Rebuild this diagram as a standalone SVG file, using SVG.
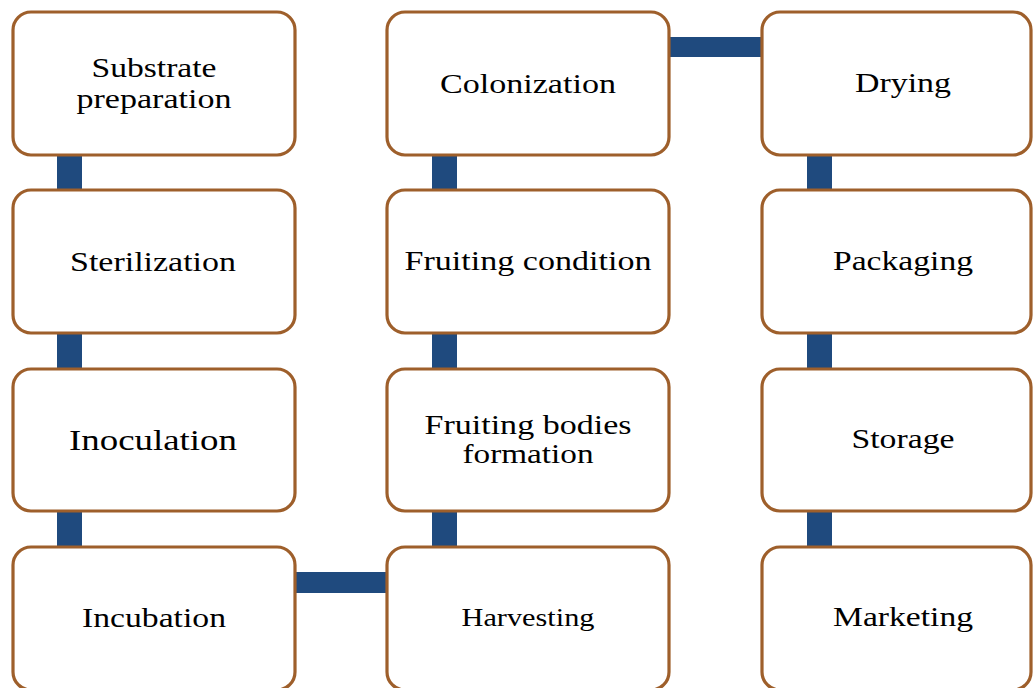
<svg xmlns="http://www.w3.org/2000/svg" width="1033" height="688" viewBox="0 0 1033 688">
  <style>
    .box { fill: #ffffff; stroke: #9e5f2b; stroke-width: 3.2; }
    .bar { fill: #1f4a7e; }
    text { font-family: "Liberation Serif", "Times New Roman", serif; fill: #000000; text-anchor: middle; }
  </style>
  <rect width="1033" height="688" fill="#ffffff"/>

  <!-- connectors -->
  <g id="connectors">
    <rect class="bar" x="57" y="154" width="25" height="37"/>
    <rect class="bar" x="57" y="332" width="25" height="38"/>
    <rect class="bar" x="57" y="510" width="25" height="38"/>
    <rect class="bar" x="294" y="572" width="94" height="21"/>
    <rect class="bar" x="432" y="510" width="25" height="38"/>
    <rect class="bar" x="432" y="332" width="25" height="38"/>
    <rect class="bar" x="432" y="154" width="25" height="37"/>
    <rect class="bar" x="668" y="37" width="95" height="20"/>
    <rect class="bar" x="807" y="154" width="25" height="37"/>
    <rect class="bar" x="807" y="332" width="25" height="38"/>
    <rect class="bar" x="807" y="510" width="25" height="38"/>
  </g>

  <!-- column 1 -->
  <g id="substrate-preparation">
    <rect class="box" x="13" y="12" width="282" height="143" rx="18"/>
    <text x="154" y="77" font-size="27" textLength="125" lengthAdjust="spacingAndGlyphs">Substrate</text>
    <text x="154" y="108" font-size="27" textLength="155" lengthAdjust="spacingAndGlyphs">preparation</text>
  </g>
  <g id="sterilization">
    <rect class="box" x="13" y="190" width="282" height="143" rx="18"/>
    <text x="153" y="271" font-size="27" textLength="166" lengthAdjust="spacingAndGlyphs">Sterilization</text>
  </g>
  <g id="inoculation">
    <rect class="box" x="13" y="369" width="282" height="142" rx="18"/>
    <text x="153" y="450" font-size="30" textLength="168" lengthAdjust="spacingAndGlyphs">Inoculation</text>
  </g>
  <g id="incubation">
    <rect class="box" x="13" y="547" width="282" height="143" rx="18"/>
    <text x="154" y="627" font-size="28" textLength="144" lengthAdjust="spacingAndGlyphs">Incubation</text>
  </g>

  <!-- column 2 -->
  <g id="harvesting">
    <rect class="box" x="387" y="547" width="282" height="143" rx="18"/>
    <text x="528" y="626" font-size="25" textLength="133" lengthAdjust="spacingAndGlyphs">Harvesting</text>
  </g>
  <g id="fruiting-bodies-formation">
    <rect class="box" x="387" y="369" width="282" height="142" rx="18"/>
    <text x="528" y="434" font-size="27" textLength="207" lengthAdjust="spacingAndGlyphs">Fruiting bodies</text>
    <text x="528" y="463" font-size="27" textLength="131" lengthAdjust="spacingAndGlyphs">formation</text>
  </g>
  <g id="fruiting-condition">
    <rect class="box" x="387" y="190" width="282" height="143" rx="18"/>
    <text x="528" y="270" font-size="27" textLength="247" lengthAdjust="spacingAndGlyphs">Fruiting condition</text>
  </g>
  <g id="colonization">
    <rect class="box" x="387" y="12" width="282" height="143" rx="18"/>
    <text x="528" y="93" font-size="28" textLength="176" lengthAdjust="spacingAndGlyphs">Colonization</text>
  </g>

  <!-- column 3 -->
  <g id="drying">
    <rect class="box" x="762" y="12" width="269" height="143" rx="18"/>
    <text x="903" y="92" font-size="28" textLength="96" lengthAdjust="spacingAndGlyphs">Drying</text>
  </g>
  <g id="packaging">
    <rect class="box" x="762" y="190" width="269" height="143" rx="18"/>
    <text x="903" y="270" font-size="27" textLength="140" lengthAdjust="spacingAndGlyphs">Packaging</text>
  </g>
  <g id="storage">
    <rect class="box" x="762" y="369" width="269" height="142" rx="18"/>
    <text x="903" y="448" font-size="27" textLength="103" lengthAdjust="spacingAndGlyphs">Storage</text>
  </g>
  <g id="marketing">
    <rect class="box" x="762" y="547" width="269" height="143" rx="18"/>
    <text x="903" y="626" font-size="28" textLength="140" lengthAdjust="spacingAndGlyphs">Marketing</text>
  </g>
</svg>
